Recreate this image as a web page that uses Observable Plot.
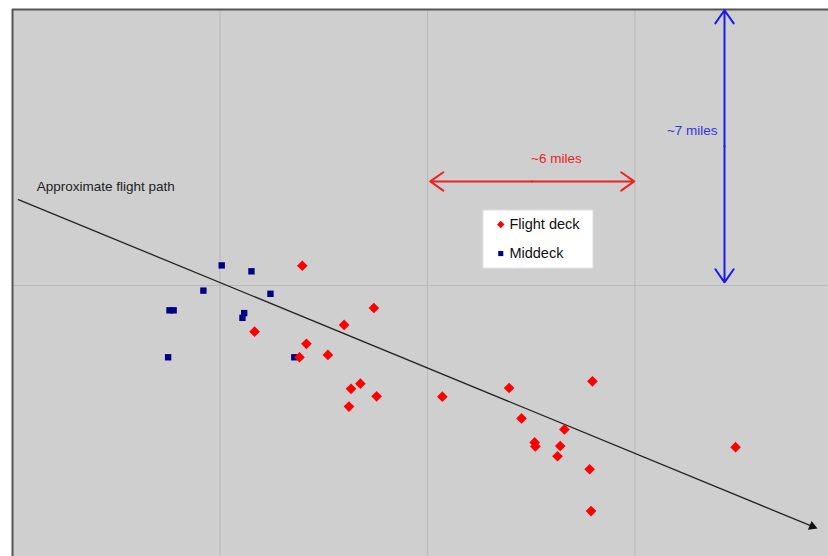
<!DOCTYPE html>
<html>
<head>
<meta charset="utf-8">
<script src="https://cdn.jsdelivr.net/npm/d3@7"></script>
<script src="https://cdn.jsdelivr.net/npm/@observablehq/plot@0.6"></script>
<style>
  html, body { margin: 0; padding: 0; background: #ffffff; }
  #chart svg { display: block; }
</style>
</head>
<body>
<div id="chart"></div>
<script>
// Positions in miles (x: along-track, y: cross-track)
const flightDeckX = [8.38, 10.45, 9.59, 7.00, 8.50, 8.30, 9.12, 10.06, 9.79, 10.53, 9.73, 12.43, 14.36, 16.77, 14.72, 15.96, 15.10, 15.12, 15.84, 15.76, 16.69, 16.73, 20.91];
const flightDeckY = [0.50, -0.57, -1.00, -1.17, -1.48, -1.82, -1.76, -2.49, -2.62, -2.81, -3.07, -2.82, -2.60, -2.43, -3.37, -3.65, -3.98, -4.08, -4.07, -4.33, -4.66, -5.72, -4.10];
const middeckX = [6.05, 6.91, 5.52, 7.46, 4.54, 4.66, 6.70, 6.65, 4.50, 8.15];
const middeckY = [0.51, 0.36, -0.13, -0.21, -0.63, -0.63, -0.70, -0.82, -1.82, -1.82];

const gridX = [6, 12, 18];
const gridY = [0];

const flightPathX = [0.17, 23.13];
const flightPathY = [2.18, -6.11];

const seriesNames = ["Flight deck", "Middeck"];
const seriesColors = ["#ff0000", "#000080"];

// annotation anchors (miles)
const hArrow = {x1: 12.08, x2: 17.98, y: 2.64, label: "~6 miles", lx: 15.73, ly: 3.22};
const vArrow = {x: 20.59, y1: 0.08, y2: 6.98, label: "~7 miles", lx: 20.39, ly: 3.93};
const pathLabel = {text: "Approximate flight path", x: 0.7, y: 2.5};
const legendBox = {x1: 13.62, x2: 16.8, y1: 0.43, y2: 1.90};

const fd = flightDeckX.map((x, i) => ({x, y: flightDeckY[i]}));
const md = middeckX.map((x, i) => ({x, y: middeckY[i]}));

const W = 828, H = 556;
const mL = 12, mT = 9;
const pxPerMileX = 34.58, pxPerMileY = 39.43;
const xMax = (W - mL) / pxPerMileX;
const yTop = 7, yBottom = yTop - (H - mT) / pxPerMileY;

const font = "Liberation Sans, Arial, sans-serif";

const hMid = (hArrow.x1 + hArrow.x2) / 2;
const vMid = (vArrow.y1 + vArrow.y2) / 2;
const angle = Math.atan2(-(flightPathY[1]-flightPathY[0]) * pxPerMileY, (flightPathX[1]-flightPathX[0]) * pxPerMileX) * 180 / Math.PI;

const chart = Plot.plot({
  width: W,
  height: H,
  marginLeft: mL,
  marginTop: mT,
  marginRight: 0,
  marginBottom: 0,
  x: {domain: [0, xMax], axis: null},
  y: {domain: [yBottom, yTop], axis: null},
  style: {fontFamily: font, background: "#ffffff"},
  marks: [
    Plot.frame({fill: "#cfcfcf", stroke: "none"}),
    Plot.ruleX(gridX, {stroke: "#b9b9b9", strokeWidth: 1}),
    Plot.ruleY(gridY, {stroke: "#b9b9b9", strokeWidth: 1}),
    Plot.ruleX([0], {stroke: "#555555", strokeWidth: 2}),
    Plot.ruleY([yTop], {stroke: "#555555", strokeWidth: 2}),
    // flight path
    Plot.line(flightPathX.map((x, i) => ({x, y: flightPathY[i]})), {x: "x", y: "y", stroke: "#222222", strokeWidth: 1.3}),
    Plot.dot([{x: flightPathX[1], y: flightPathY[1]}], {x: "x", y: "y", symbol: "triangle", r: 3.6, fill: "#111111", rotate: 90 + angle}),
    Plot.text([pathLabel], {x: "x", y: "y", text: "text", textAnchor: "start", fontSize: 13.5, fill: "#222222"}),
    // horizontal double arrow
    Plot.arrow([{x1: hMid, x2: hArrow.x1}, {x1: hMid, x2: hArrow.x2}], {x1: "x1", x2: "x2", y1: () => hArrow.y, y2: () => hArrow.y, stroke: "#ee2222", strokeWidth: 2, headLength: 12, headAngle: 70}),
    Plot.text([hArrow], {x: "lx", y: "ly", text: "label", fill: "#ee2222", fontSize: 13.5}),
    // vertical double arrow
    Plot.arrow([{y1: vMid, y2: vArrow.y1}, {y1: vMid, y2: vArrow.y2}], {x1: () => vArrow.x, x2: () => vArrow.x, y1: "y1", y2: "y2", stroke: "#1a1aee", strokeWidth: 2, headLength: 12, headAngle: 70}),
    Plot.text([vArrow], {x: "lx", y: "ly", text: "label", fill: "#3333e0", fontSize: 13.5, textAnchor: "end"}),
    // data
    Plot.dot(md, {x: "x", y: "y", symbol: "square", r: 3.6, fill: seriesColors[1]}),
    Plot.dot(fd, {x: "x", y: "y", symbol: "diamond2", r: 4.8, fill: seriesColors[0]}),
    // legend
    Plot.rect([legendBox], {x1: "x1", x2: "x2", y1: "y1", y2: "y2", fill: "#ffffff", stroke: "#e2e2e2"}),
    Plot.dot(seriesNames.map((s, i) => ({s, i})), {
      x: () => legendBox.x1 + 0.5,
      y: (d) => legendBox.y2 - 0.35 - d.i * 0.74,
      symbol: (d) => d.i === 0 ? "diamond2" : "square",
      r: (d) => d.i === 0 ? 4.2 : 3,
      fill: (d) => seriesColors[d.i]
    }),
    Plot.text(seriesNames.map((s, i) => ({s, i})), {
      x: () => legendBox.x1 + 0.75,
      y: (d) => legendBox.y2 - 0.35 - d.i * 0.74,
      text: "s",
      textAnchor: "start",
      fontSize: 14.5,
      fill: "#111111"
    })
  ]
});
document.getElementById("chart").append(chart);
</script>
</body>
</html>
